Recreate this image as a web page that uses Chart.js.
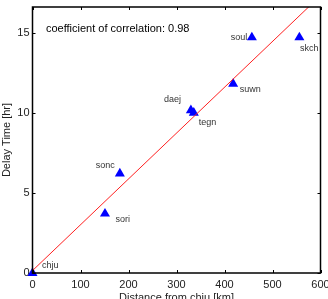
<!DOCTYPE html>
<html>
<head>
<meta charset="utf-8">
<script src="https://cdn.jsdelivr.net/npm/chart.js@4"></script>
<style>
  html, body { margin: 0; padding: 0; background: #fff; overflow: hidden; }
</style>
</head>
<body>
<canvas id="c" width="328" height="310"></canvas>
<script>
// station data
const stations = ['chju', 'sori', 'sonc', 'daej', 'tegn', 'suwn', 'soul', 'skch'];
const distanceKm = [0, 151, 182, 330, 336, 418, 457, 556];
const delayHr = [0, 3.7, 6.2, 10.15, 10.0, 11.8, 14.7, 14.7];

// regression line end points
const fitX = [0, 600];
const fitY = [0.15, 17.31];

const xTicks = [0, 100, 200, 300, 400, 500, 600];
const yTicks = [0, 5, 10, 15];
const correlation = 0.98;

// where each station name sits relative to its marker
const labelPlacement = [
    { dx: 9.5, dy: -7, align: 'left' },
    { dx: 10.5, dy: 6, align: 'left' },
    { dx: -5, dy: -8, align: 'right' },
    { dx: -10, dy: -10.5, align: 'right' },
    { dx: 5, dy: 9.5, align: 'left' },
    { dx: 6.5, dy: 6, align: 'left' },
    { dx: -4.5, dy: 0, align: 'right' },
    { dx: 0.5, dy: 11.5, align: 'left' }
];

const FONT = '"Liberation Sans", Arial, sans-serif';
const TEXT = '#222';

const frameAndLabels = {
    id: 'frameAndLabels',
    afterDraw(chart) {
        const { ctx, chartArea: a, scales: { x, y } } = chart;
        ctx.save();

        // box round the plot, ticks pointing inward on all four sides
        ctx.strokeStyle = '#000';
        ctx.lineWidth = 1.5;
        ctx.strokeRect(a.left, a.top, a.right - a.left, a.bottom - a.top);
        ctx.lineWidth = 1;
        ctx.beginPath();
        xTicks.forEach(v => {
            const px = Math.round(x.getPixelForValue(v)) + 0.5;
            ctx.moveTo(px, a.bottom); ctx.lineTo(px, a.bottom - 3);
            ctx.moveTo(px, a.top); ctx.lineTo(px, a.top + 3);
        });
        yTicks.forEach(v => {
            const py = Math.round(y.getPixelForValue(v)) + 0.5;
            ctx.moveTo(a.left, py); ctx.lineTo(a.left + 3, py);
            ctx.moveTo(a.right, py); ctx.lineTo(a.right - 3, py);
        });
        ctx.stroke();

        // station names
        ctx.font = '9px ' + FONT;
        ctx.fillStyle = '#333';
        ctx.textBaseline = 'middle';
        stations.forEach((name, i) => {
            const p = labelPlacement[i];
            ctx.textAlign = p.align;
            ctx.fillText(name,
                x.getPixelForValue(distanceKm[i]) + p.dx,
                y.getPixelForValue(delayHr[i]) + p.dy);
        });

        // correlation note
        ctx.font = '11px ' + FONT;
        ctx.fillStyle = '#000';
        ctx.textAlign = 'left';
        ctx.fillText('coefficient of correlation: ' + correlation.toFixed(2),
            x.getPixelForValue(28), y.getPixelForValue(15.25));

        ctx.restore();
    }
};

new Chart(document.getElementById('c'), {
    type: 'scatter',
    data: {
        datasets: [{
            type: 'line',
            data: fitX.map((v, i) => ({ x: v, y: fitY[i] })),
            borderColor: '#ff2020',
            borderWidth: 1,
            pointRadius: 0,
            fill: false,
            order: 0
        }, {
            data: distanceKm.map((v, i) => ({ x: v, y: delayHr[i] })),
            pointStyle: 'triangle',
            pointRadius: 5.8,
            backgroundColor: '#0000ff',
            borderColor: '#0000ff',
            borderWidth: 0,
            clip: false,
            order: 1
        }]
    },
    options: {
        responsive: false,
        animation: false,
        devicePixelRatio: 1,
        layout: { padding: { top: 7, right: 7.5, left: 0, bottom: 0 } },
        plugins: {
            legend: { display: false },
            tooltip: { enabled: false }
        },
        scales: {
            x: {
                type: 'linear',
                min: 0,
                max: 600,
                afterFit: s => {
                    s.height = 37;
                    s.paddingLeft = 0;
                    s.paddingRight = 0;
                },
                afterBuildTicks: s => { s.ticks = xTicks.map(v => ({ value: v })); },
                grid: { display: false, drawTicks: false },
                border: { display: false },
                ticks: { padding: 5, color: TEXT, font: { family: FONT, size: 11 } },
                title: {
                    display: true,
                    text: 'Distance from chju [km]',
                    color: TEXT,
                    padding: { top: 0, bottom: 5 },
                    font: { family: FONT, size: 11 }
                }
            },
            y: {
                type: 'linear',
                min: 0,
                max: 16.6,
                afterFit: s => {
                    s.width = 32.5;
                    s.paddingTop = 0;
                    s.paddingBottom = 0;
                },
                afterBuildTicks: s => { s.ticks = yTicks.map(v => ({ value: v })); },
                grid: { display: false, drawTicks: false },
                border: { display: false },
                ticks: { padding: 3, color: TEXT, font: { family: FONT, size: 11 } },
                title: {
                    display: true,
                    text: 'Delay Time [hr]',
                    color: TEXT,
                    padding: { top: 0, bottom: 0 },
                    font: { family: FONT, size: 11 }
                }
            }
        }
    },
    plugins: [frameAndLabels]
});
</script>
</body>
</html>
